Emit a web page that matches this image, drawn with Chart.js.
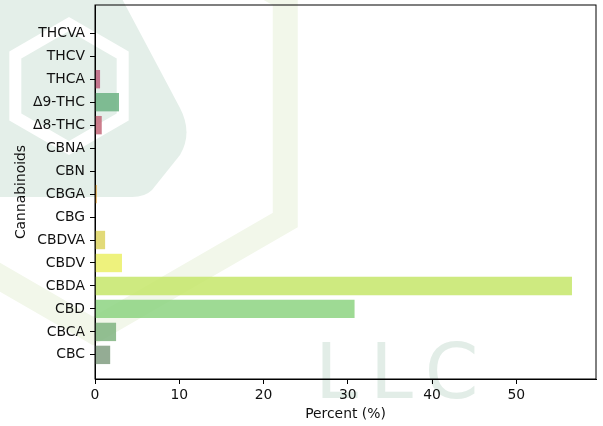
<!DOCTYPE html>
<html><head><meta charset="utf-8">
<script src="https://cdn.jsdelivr.net/npm/chart.js@4"></script>
<style>html,body{margin:0;padding:0;background:#fff}#wrap{width:603px;height:426px;position:relative}</style>
</head><body><div id="wrap"><canvas id="c"></canvas></div>
<script>
// Data (bottom to top, as drawn)
const categories = ['CBC','CBCA','CBD','CBDA','CBDV','CBDVA','CBG','CBGA','CBN','CBNA','Δ8-THC','Δ9-THC','THCA','THCV','THCVA'];
const percentValues = [1.8, 2.5, 30.8, 56.6, 3.2, 1.2, 0, 0.2, 0, 0, 0.8, 2.85, 0.6, 0, 0];
const xTickValues = [0, 10, 20, 30, 40, 50];
const xTitle = 'Percent (%)';
const yTitle = 'Cannabinoids';

const barColors = [
  'rgba(129,157,129,0.85)', 'rgba(128,180,128,0.85)', 'rgba(141,211,129,0.85)', 'rgba(198,230,106,0.85)',
  'rgba(235,240,102,0.85)', 'rgba(221,211,96,0.85)', 'rgba(200,200,200,0.85)', 'rgba(228,153,30,0.85)',
  'rgba(200,200,200,0.85)', 'rgba(200,200,200,0.85)', 'rgba(196,102,120,0.85)', 'rgba(108,178,130,0.85)',
  'rgba(190,96,126,0.85)', 'rgba(200,200,200,0.85)', 'rgba(200,200,200,0.85)'
];

function hexPath(ctx, cx, cy, R) {
  ctx.beginPath();
  for (let i = 0; i < 6; i++) {
    const a = Math.PI / 2 + i * Math.PI / 3;
    const px = cx + R * Math.cos(a), py = cy + R * Math.sin(a);
    if (i === 0) ctx.moveTo(px, py); else ctx.lineTo(px, py);
  }
  ctx.closePath();
}

const watermark = {
  id: 'watermark',
  beforeDraw(chart) {
    const ctx = chart.ctx;
    ctx.save();
    ctx.fillStyle = '#ffffff';
    ctx.fillRect(0, 0, chart.width, chart.height);
    // big dark-green shape
    ctx.fillStyle = 'rgb(228,239,233)';
    ctx.beginPath();
    ctx.moveTo(-5, -5);
    ctx.lineTo(120, -5);
    ctx.lineTo(180, 108);
    ctx.quadraticCurveTo(193, 133, 180, 155);
    ctx.lineTo(152, 190);
    ctx.quadraticCurveTo(145, 197, 132, 197);
    ctx.lineTo(-5, 197);
    ctx.closePath();
    ctx.fill();
    // white hexagon outline inside
    ctx.strokeStyle = '#ffffff';
    ctx.lineWidth = 12;
    hexPath(ctx, 69, 86, 62);
    ctx.stroke();
    // large light hexagon band
    ctx.strokeStyle = 'rgb(242,247,234)';
    ctx.lineWidth = 25;
    hexPath(ctx, 93, 109, 222);
    ctx.stroke();
    // LLC text
    ctx.fillStyle = 'rgb(226,237,231)';
    ctx.font = '77px "DejaVu Sans"';
    ctx.letterSpacing = '12px';
    ctx.textBaseline = 'alphabetic';
    ctx.textAlign = 'left';
    ctx.fillText('LLC', 315, 398);
    ctx.restore();
  },
  afterDatasetsDraw(chart) {
    const {ctx, chartArea: a} = chart;
    ctx.save();
    ctx.strokeStyle = '#000';
    ctx.lineWidth = 1;
    ctx.strokeRect(a.left, a.top, a.right - a.left, a.bottom - a.top);
    ctx.restore();
  }
};

Chart.defaults.font.family = '"DejaVu Sans", sans-serif';
Chart.defaults.font.size = 13.9;
Chart.defaults.color = '#111';

new Chart(document.getElementById('c'), {
  type: 'bar',
  data: {
    datasets: [{
      data: percentValues.map((v, i) => ({x: v, y: i})),
      backgroundColor: barColors,
      borderWidth: 0,
      barPercentage: 0.8,
      categoryPercentage: 1.0
    }]
  },
  options: {
    indexAxis: 'y',
    responsive: true,
    maintainAspectRatio: false,
    animation: false,
    layout: {padding: {left: 0, right: 7, top: 5, bottom: 0}},
    plugins: {legend: {display: false}, tooltip: {enabled: false}},
    scales: {
      x: {
        type: 'linear', min: 0, max: 59.45,
        afterBuildTicks: s => { s.ticks = xTickValues.map(v => ({value: v})); },
        afterFit: s => { s.height = 47; s.paddingLeft = 0; s.paddingRight = 0; },
        grid: {drawOnChartArea: false, drawTicks: true, tickLength: 5, color: '#000'},
        border: {display: true, color: '#000', width: 1},
        ticks: {padding: 3, maxRotation: 0},
        title: {display: true, text: xTitle, padding: {top: 0, bottom: 3}}
      },
      y: {
        type: 'linear', min: -1.05, max: 15.23, offset: false,
        afterBuildTicks: s => { s.ticks = categories.map((_, i) => ({value: i})); },
        afterFit: s => { s.width = 95; s.paddingTop = 0; s.paddingBottom = 0; },
        grid: {offset: false, drawOnChartArea: false, drawTicks: true, tickLength: 5, color: '#000'},
        border: {display: true, color: '#000', width: 1},
        ticks: {padding: 5, autoSkip: false, callback: v => categories[v]},
        title: {display: true, text: yTitle, padding: {top: 13, bottom: 0}}
      }
    }
  },
  plugins: [watermark]
});
</script>
</body></html>
